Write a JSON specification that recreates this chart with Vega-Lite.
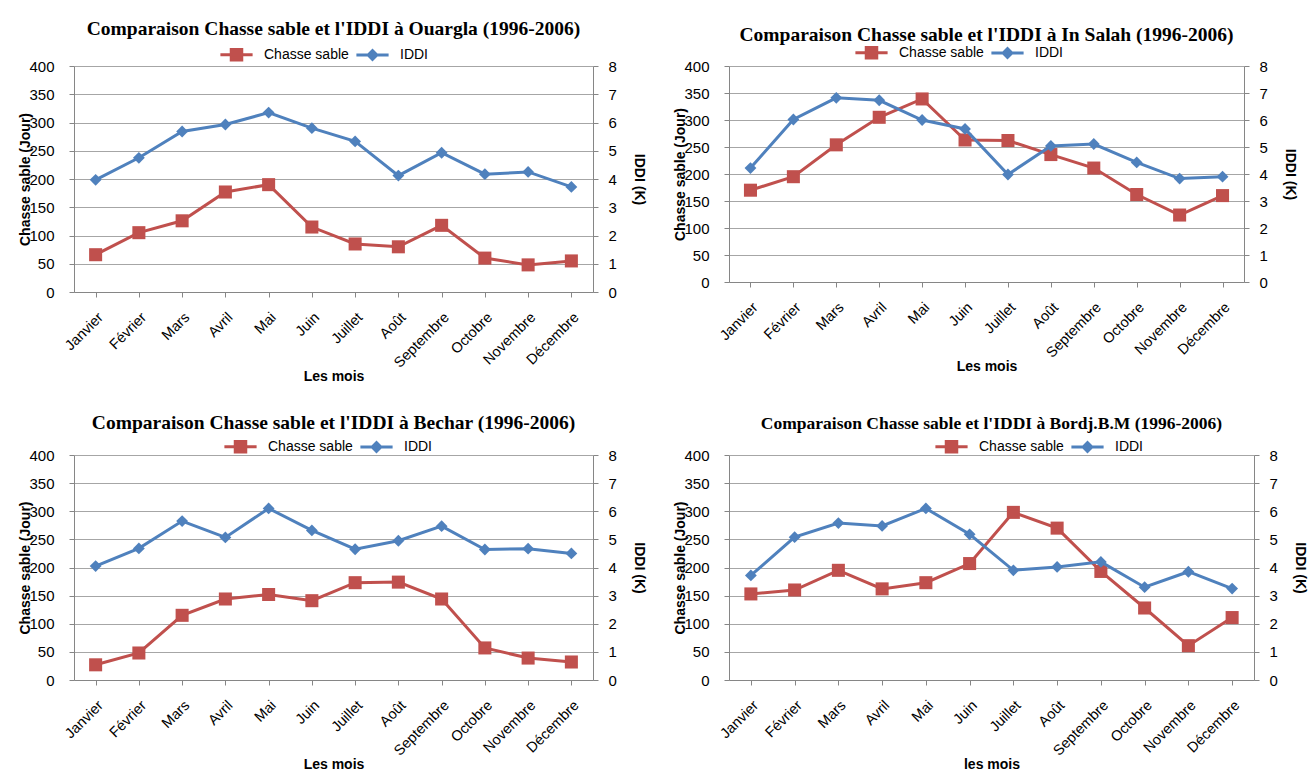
{
  "$schema": "https://vega.github.io/schema/vega-lite/v6.json",
  "padding": {"left": 18, "top": 18, "right": 5, "bottom": 2},
  "background": "white",
  "datasets": {
    "d": [
      {"station": "Ouargla", "mois": "Janvier", "chasse": 66, "iddi": 3.97},
      {"station": "Ouargla", "mois": "Février", "chasse": 105, "iddi": 4.75},
      {"station": "Ouargla", "mois": "Mars", "chasse": 126, "iddi": 5.68},
      {"station": "Ouargla", "mois": "Avril", "chasse": 177, "iddi": 5.93},
      {"station": "Ouargla", "mois": "Mai", "chasse": 190, "iddi": 6.35},
      {"station": "Ouargla", "mois": "Juin", "chasse": 115, "iddi": 5.8},
      {"station": "Ouargla", "mois": "Juillet", "chasse": 85, "iddi": 5.33},
      {"station": "Ouargla", "mois": "Août", "chasse": 80, "iddi": 4.12},
      {"station": "Ouargla", "mois": "Septembre", "chasse": 118, "iddi": 4.93},
      {"station": "Ouargla", "mois": "Octobre", "chasse": 60, "iddi": 4.17},
      {"station": "Ouargla", "mois": "Novembre", "chasse": 48, "iddi": 4.25},
      {"station": "Ouargla", "mois": "Décembre", "chasse": 55, "iddi": 3.72},
      {"station": "In Salah", "mois": "Janvier", "chasse": 170, "iddi": 4.22},
      {"station": "In Salah", "mois": "Février", "chasse": 195, "iddi": 6.02},
      {"station": "In Salah", "mois": "Mars", "chasse": 254, "iddi": 6.82},
      {"station": "In Salah", "mois": "Avril", "chasse": 305, "iddi": 6.73},
      {"station": "In Salah", "mois": "Mai", "chasse": 339, "iddi": 6.0},
      {"station": "In Salah", "mois": "Juin", "chasse": 263, "iddi": 5.67},
      {"station": "In Salah", "mois": "Juillet", "chasse": 262, "iddi": 3.98},
      {"station": "In Salah", "mois": "Août", "chasse": 236, "iddi": 5.04},
      {"station": "In Salah", "mois": "Septembre", "chasse": 211, "iddi": 5.11},
      {"station": "In Salah", "mois": "Octobre", "chasse": 162, "iddi": 4.43},
      {"station": "In Salah", "mois": "Novembre", "chasse": 124, "iddi": 3.83},
      {"station": "In Salah", "mois": "Décembre", "chasse": 160, "iddi": 3.9},
      {"station": "Bechar", "mois": "Janvier", "chasse": 27, "iddi": 4.05},
      {"station": "Bechar", "mois": "Février", "chasse": 48, "iddi": 4.68},
      {"station": "Bechar", "mois": "Mars", "chasse": 115, "iddi": 5.65},
      {"station": "Bechar", "mois": "Avril", "chasse": 144, "iddi": 5.07},
      {"station": "Bechar", "mois": "Mai", "chasse": 152, "iddi": 6.1},
      {"station": "Bechar", "mois": "Juin", "chasse": 141, "iddi": 5.32},
      {"station": "Bechar", "mois": "Juillet", "chasse": 173, "iddi": 4.65},
      {"station": "Bechar", "mois": "Août", "chasse": 174, "iddi": 4.95},
      {"station": "Bechar", "mois": "Septembre", "chasse": 144, "iddi": 5.47},
      {"station": "Bechar", "mois": "Octobre", "chasse": 57, "iddi": 4.64},
      {"station": "Bechar", "mois": "Novembre", "chasse": 39, "iddi": 4.67},
      {"station": "Bechar", "mois": "Décembre", "chasse": 32, "iddi": 4.5},
      {"station": "Bordj", "mois": "Janvier", "chasse": 153, "iddi": 3.72},
      {"station": "Bordj", "mois": "Février", "chasse": 160, "iddi": 5.08},
      {"station": "Bordj", "mois": "Mars", "chasse": 195, "iddi": 5.58},
      {"station": "Bordj", "mois": "Avril", "chasse": 162, "iddi": 5.48},
      {"station": "Bordj", "mois": "Mai", "chasse": 173, "iddi": 6.1},
      {"station": "Bordj", "mois": "Juin", "chasse": 207, "iddi": 5.18},
      {"station": "Bordj", "mois": "Juillet", "chasse": 298, "iddi": 3.9},
      {"station": "Bordj", "mois": "Août", "chasse": 270, "iddi": 4.02},
      {"station": "Bordj", "mois": "Septembre", "chasse": 193, "iddi": 4.2},
      {"station": "Bordj", "mois": "Octobre", "chasse": 128, "iddi": 3.3},
      {"station": "Bordj", "mois": "Novembre", "chasse": 61, "iddi": 3.85},
      {"station": "Bordj", "mois": "Décembre", "chasse": 111, "iddi": 3.25}
    ]
  },
  "columns": 2,
  "bounds": "flush",
  "spacing": {"column": 136, "row": 163},
  "resolve": {"scale": {"color": "independent"}, "legend": {"color": "independent"}},
  "concat": [
    {
      "title": {"text": "Comparaison Chasse sable et l'IDDI à Ouargla (1996-2006)", "fontSize": 19.5, "offset": 7},
      "width": 519, "height": 226,
      "data": {"name": "d"},
      "transform": [{"filter": "datum.station === 'Ouargla'"}],
      "resolve": {"scale": {"y": "independent"}},
      "layer": [
        {
          "mark": {"type": "line", "strokeWidth": 3, "point": {"shape": "square", "size": 170, "filled": true, "opacity": 1}},
          "encoding": {
            "x": {"field": "mois", "type": "ordinal", "sort": ["Janvier","Février","Mars","Avril","Mai","Juin","Juillet","Août","Septembre","Octobre","Novembre","Décembre"], "scale": {"paddingInner": 0, "paddingOuter": 0}, "title": "Les mois"},
            "y": {"field": "chasse", "type": "quantitative", "scale": {"domain": [0, 400]}, "axis": {"values": [0,50,100,150,200,250,300,350,400], "title": "Chasse sable (Jour)", "titlePadding": -4, "labelPadding": 15}},
            "color": {"datum": "Chasse sable", "scale": {"domain": ["Chasse sable", "IDDI"], "range": ["#C0504D", "#4F81BD"]},
              "legend": {"orient": "none", "legendX": 154, "legendY": -20, "direction": "horizontal",
                "encode": {"symbols": {"update": {
                  "shape": {"signal": "datum.value === 'IDDI' ? 'M-2.3,0H2.3M-0.62,0L0,-0.62L0.62,0L0,0.62Z' : 'M-2.3,0H2.3M-0.75,-0.75H0.75V0.75H-0.75Z'"},
                  "fill": {"signal": "datum.value === 'IDDI' ? '#4F81BD' : '#C0504D'"},
                  "stroke": {"signal": "datum.value === 'IDDI' ? '#4F81BD' : '#C0504D'"},
                  "strokeWidth": {"value": 3}, "opacity": {"value": 1}}}}}}
          }
        },
        {
          "mark": {"type": "line", "strokeWidth": 3, "point": {"shape": "diamond", "size": 140, "filled": true, "opacity": 1}},
          "encoding": {
            "x": {"field": "mois", "type": "ordinal", "sort": ["Janvier","Février","Mars","Avril","Mai","Juin","Juillet","Août","Septembre","Octobre","Novembre","Décembre"]},
            "y": {"field": "iddi", "type": "quantitative", "scale": {"domain": [0, 8]}, "axis": {"orient": "right", "grid": false, "values": [0,1,2,3,4,5,6,7,8], "title": "IDDI (K)", "titlePadding": 15}},
            "color": {"datum": "IDDI"}
          }
        }
      ]
    },
    {
      "title": {"text": "Comparaison Chasse sable et l'IDDI à In Salah (1996-2006)", "fontSize": 19.5, "offset": -1},
      "width": 515, "height": 216,
      "data": {"name": "d"},
      "transform": [{"filter": "datum.station === 'In Salah'"}],
      "resolve": {"scale": {"y": "independent"}},
      "layer": [
        {
          "mark": {"type": "line", "strokeWidth": 3, "point": {"shape": "square", "size": 170, "filled": true, "opacity": 1}},
          "encoding": {
            "x": {"field": "mois", "type": "ordinal", "sort": ["Janvier","Février","Mars","Avril","Mai","Juin","Juillet","Août","Septembre","Octobre","Novembre","Décembre"], "scale": {"paddingInner": 0, "paddingOuter": 0}, "title": "Les mois"},
            "y": {"field": "chasse", "type": "quantitative", "scale": {"domain": [0, 400]}, "axis": {"values": [0,50,100,150,200,250,300,350,400], "title": "Chasse sable (Jour)", "titlePadding": -4, "labelPadding": 15}},
            "color": {"datum": "Chasse sable", "scale": {"domain": ["Chasse sable", "IDDI"], "range": ["#C0504D", "#4F81BD"]},
              "legend": {"orient": "none", "legendX": 134, "legendY": -22, "direction": "horizontal",
                "encode": {"symbols": {"update": {
                  "shape": {"signal": "datum.value === 'IDDI' ? 'M-2.3,0H2.3M-0.62,0L0,-0.62L0.62,0L0,0.62Z' : 'M-2.3,0H2.3M-0.75,-0.75H0.75V0.75H-0.75Z'"},
                  "fill": {"signal": "datum.value === 'IDDI' ? '#4F81BD' : '#C0504D'"},
                  "stroke": {"signal": "datum.value === 'IDDI' ? '#4F81BD' : '#C0504D'"},
                  "strokeWidth": {"value": 3}, "opacity": {"value": 1}}}}}}
          }
        },
        {
          "mark": {"type": "line", "strokeWidth": 3, "point": {"shape": "diamond", "size": 140, "filled": true, "opacity": 1}},
          "encoding": {
            "x": {"field": "mois", "type": "ordinal", "sort": ["Janvier","Février","Mars","Avril","Mai","Juin","Juillet","Août","Septembre","Octobre","Novembre","Décembre"]},
            "y": {"field": "iddi", "type": "quantitative", "scale": {"domain": [0, 8]}, "axis": {"orient": "right", "grid": false, "values": [0,1,2,3,4,5,6,7,8], "title": "IDDI (K)", "titlePadding": 15}},
            "color": {"datum": "IDDI"}
          }
        }
      ]
    },
    {
      "title": {"text": "Comparaison Chasse sable et l'IDDI à Bechar (1996-2006)", "fontSize": 19.5, "offset": 5},
      "width": 519, "height": 225,
      "data": {"name": "d"},
      "transform": [{"filter": "datum.station === 'Bechar'"}],
      "resolve": {"scale": {"y": "independent"}},
      "layer": [
        {
          "mark": {"type": "line", "strokeWidth": 3, "point": {"shape": "square", "size": 170, "filled": true, "opacity": 1}},
          "encoding": {
            "x": {"field": "mois", "type": "ordinal", "sort": ["Janvier","Février","Mars","Avril","Mai","Juin","Juillet","Août","Septembre","Octobre","Novembre","Décembre"], "scale": {"paddingInner": 0, "paddingOuter": 0}, "title": "Les mois"},
            "y": {"field": "chasse", "type": "quantitative", "scale": {"domain": [0, 400]}, "axis": {"values": [0,50,100,150,200,250,300,350,400], "title": "Chasse sable (Jour)", "titlePadding": -4, "labelPadding": 15}},
            "color": {"datum": "Chasse sable", "scale": {"domain": ["Chasse sable", "IDDI"], "range": ["#C0504D", "#4F81BD"]},
              "legend": {"orient": "none", "legendX": 158, "legendY": -17, "direction": "horizontal",
                "encode": {"symbols": {"update": {
                  "shape": {"signal": "datum.value === 'IDDI' ? 'M-2.3,0H2.3M-0.62,0L0,-0.62L0.62,0L0,0.62Z' : 'M-2.3,0H2.3M-0.75,-0.75H0.75V0.75H-0.75Z'"},
                  "fill": {"signal": "datum.value === 'IDDI' ? '#4F81BD' : '#C0504D'"},
                  "stroke": {"signal": "datum.value === 'IDDI' ? '#4F81BD' : '#C0504D'"},
                  "strokeWidth": {"value": 3}, "opacity": {"value": 1}}}}}}
          }
        },
        {
          "mark": {"type": "line", "strokeWidth": 3, "point": {"shape": "diamond", "size": 140, "filled": true, "opacity": 1}},
          "encoding": {
            "x": {"field": "mois", "type": "ordinal", "sort": ["Janvier","Février","Mars","Avril","Mai","Juin","Juillet","Août","Septembre","Octobre","Novembre","Décembre"]},
            "y": {"field": "iddi", "type": "quantitative", "scale": {"domain": [0, 8]}, "axis": {"orient": "right", "grid": false, "values": [0,1,2,3,4,5,6,7,8], "title": "IDDI (K)", "titlePadding": 15}},
            "color": {"datum": "IDDI"}
          }
        }
      ]
    },
    {
      "title": {"text": "Comparaison Chasse sable et l'IDDI à Bordj.B.M  (1996-2006)", "fontSize": 17.5, "offset": 6},
      "width": 525, "height": 225,
      "data": {"name": "d"},
      "transform": [{"filter": "datum.station === 'Bordj'"}],
      "resolve": {"scale": {"y": "independent"}},
      "layer": [
        {
          "mark": {"type": "line", "strokeWidth": 3, "point": {"shape": "square", "size": 170, "filled": true, "opacity": 1}},
          "encoding": {
            "x": {"field": "mois", "type": "ordinal", "sort": ["Janvier","Février","Mars","Avril","Mai","Juin","Juillet","Août","Septembre","Octobre","Novembre","Décembre"], "scale": {"paddingInner": 0, "paddingOuter": 0}, "title": "les mois"},
            "y": {"field": "chasse", "type": "quantitative", "scale": {"domain": [0, 400]}, "axis": {"values": [0,50,100,150,200,250,300,350,400], "title": "Chasse sable (Jour)", "titlePadding": -4, "labelPadding": 15}},
            "color": {"datum": "Chasse sable", "scale": {"domain": ["Chasse sable", "IDDI"], "range": ["#C0504D", "#4F81BD"]},
              "legend": {"orient": "none", "legendX": 214, "legendY": -17, "direction": "horizontal",
                "encode": {"symbols": {"update": {
                  "shape": {"signal": "datum.value === 'IDDI' ? 'M-2.3,0H2.3M-0.62,0L0,-0.62L0.62,0L0,0.62Z' : 'M-2.3,0H2.3M-0.75,-0.75H0.75V0.75H-0.75Z'"},
                  "fill": {"signal": "datum.value === 'IDDI' ? '#4F81BD' : '#C0504D'"},
                  "stroke": {"signal": "datum.value === 'IDDI' ? '#4F81BD' : '#C0504D'"},
                  "strokeWidth": {"value": 3}, "opacity": {"value": 1}}}}}}
          }
        },
        {
          "mark": {"type": "line", "strokeWidth": 3, "point": {"shape": "diamond", "size": 140, "filled": true, "opacity": 1}},
          "encoding": {
            "x": {"field": "mois", "type": "ordinal", "sort": ["Janvier","Février","Mars","Avril","Mai","Juin","Juillet","Août","Septembre","Octobre","Novembre","Décembre"]},
            "y": {"field": "iddi", "type": "quantitative", "scale": {"domain": [0, 8]}, "axis": {"orient": "right", "grid": false, "values": [0,1,2,3,4,5,6,7,8], "title": "IDDI (K)", "titlePadding": 15}},
            "color": {"datum": "IDDI"}
          }
        }
      ]
    }
  ],
  "config": {
    "view": {"stroke": null},
    "title": {"font": "Liberation Serif", "fontWeight": "bold", "color": "black", "anchor": "middle"},
    "axis": {
      "labelFont": "Liberation Sans", "labelFontSize": 15, "labelColor": "black",
      "titleFont": "Liberation Sans", "titleFontSize": 14, "titleFontWeight": "bold", "titleColor": "black",
      "domainColor": "#868686", "tickColor": "#868686", "gridColor": "#a6a6a6", "tickSize": 5, "labelPadding": 10
    },
    "axisX": {"labelAngle": -45, "labelFontSize": 14.5, "grid": false, "bandPosition": 0, "titlePadding": 0, "labelPadding": 13},
    "legend": {
      "labelFont": "Liberation Sans", "labelFontSize": 14, "labelColor": "black", "title": null,
      "symbolSize": 196, "symbolStrokeWidth": 3, "labelOffset": 19, "columnPadding": 1, "padding": 0,
      "symbolOpacity": 1
    }
  }
}
